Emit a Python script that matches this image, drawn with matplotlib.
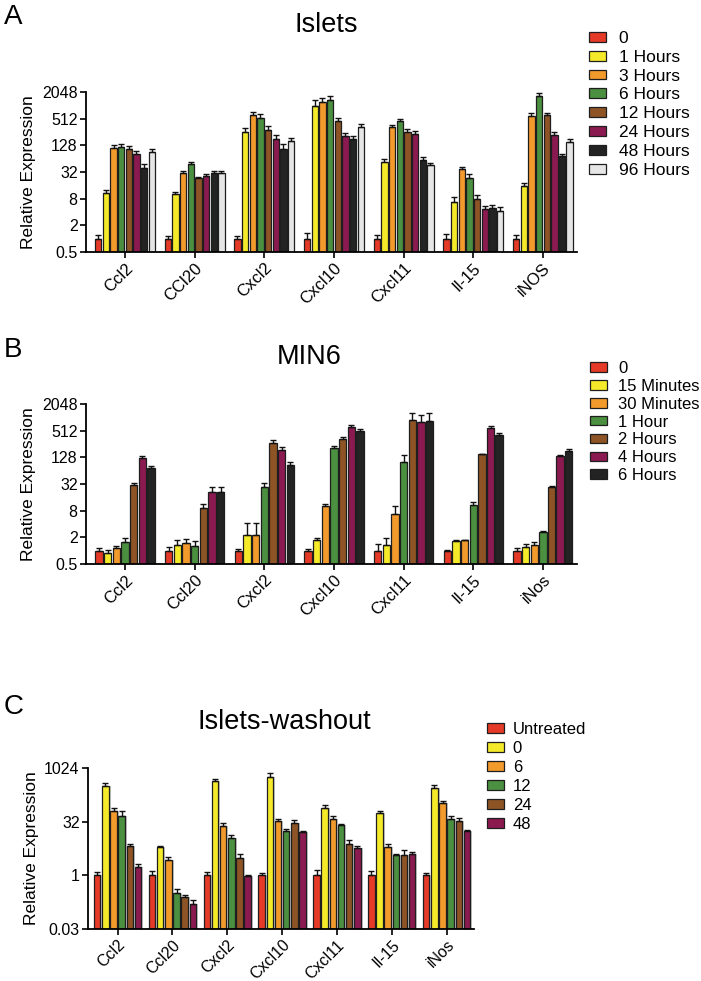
import numpy as np
import matplotlib
matplotlib.use('Agg')
import matplotlib.pyplot as plt
from matplotlib.ticker import FixedLocator, FixedFormatter, NullLocator
import matplotlib.transforms as mtransforms

plt.rcParams['font.family'] = ['Liberation Sans', 'DejaVu Sans']

# Panel A: Islets
genes_a = ['Ccl2', 'CCl20', 'Cxcl2', 'Cxcl10', 'Cxcl11', 'Il-15', 'iNOS']
series_a = ['0', '1 Hours', '3 Hours', '6 Hours', '12 Hours', '24 Hours', '48 Hours', '96 Hours']
# rows = genes, columns = series
vals_a = [
    [1.0, 10.5, 114, 118, 105, 80, 39, 92],
    [1.0, 10.0, 31, 48, 23, 26, 31, 31],
    [1.0, 254, 605, 526, 282, 182, 105, 161],
    [1.0, 968, 1190, 1320, 458, 209, 176, 340],
    [1.0, 55, 335, 442, 254, 229, 61, 45],
    [1.0, 6.9, 37, 24, 7.7, 4.6, 4.8, 4.3],
    [1.0, 15.7, 596, 1630, 617, 217, 72, 153],
]
# upper error as a fraction of the mean
err_a = [
    [0.23, 0.19, 0.15, 0.19, 0.15, 0.19, 0.23, 0.15],
    [0.15, 0.15, 0.11, 0.15, 0.09, 0.11, 0.11, 0.11],
    [0.15, 0.23, 0.19, 0.23, 0.23, 0.23, 0.28, 0.19],
    [0.34, 0.37, 0.23, 0.23, 0.15, 0.19, 0.19, 0.15],
    [0.19, 0.15, 0.11, 0.15, 0.15, 0.15, 0.15, 0.15],
    [0.30, 0.28, 0.15, 0.23, 0.28, 0.19, 0.23, 0.23],
    [0.19, 0.15, 0.15, 0.19, 0.11, 0.19, 0.15, 0.15],
]

# Panel B: MIN6
genes_b = ['Ccl2', 'Ccl20', 'Cxcl2', 'Cxcl10', 'Cxcl11', 'Il-15', 'iNos']
series_b = ['0', '15 Minutes', '30 Minutes', '1 Hour', '2 Hours', '4 Hours', '6 Hours']
vals_b = [
    [1.0, 0.9, 1.13, 1.6, 29.6, 123, 73],
    [1.0, 1.35, 1.47, 1.3, 9.1, 21, 21],
    [0.98, 2.2, 2.2, 27, 268, 190, 87],
    [1.0, 1.78, 10.3, 204, 336, 617, 500],
    [0.98, 1.32, 6.9, 100, 890, 815, 860],
    [1.0, 1.68, 1.7, 10.8, 149, 588, 407],
    [0.98, 1.21, 1.37, 2.6, 27, 134, 180],
]
err_b = [
    [0.15, 0.15, 0.15, 0.23, 0.11, 0.11, 0.11],
    [0.23, 0.28, 0.23, 0.28, 0.23, 0.28, 0.28],
    [0.09, 0.90, 0.90, 0.28, 0.15, 0.15, 0.15],
    [0.09, 0.09, 0.09, 0.15, 0.09, 0.11, 0.11],
    [0.47, 0.47, 0.47, 0.47, 0.47, 0.42, 0.47],
    [0.04, 0.04, 0.04, 0.19, 0.04, 0.09, 0.09],
    [0.15, 0.19, 0.15, 0.05, 0.05, 0.07, 0.11],
]

# Panel C: Islets-washout
genes_c = ['Ccl2', 'Ccl20', 'Cxcl2', 'Cxcl10', 'Cxcl11', 'Il-15', 'iNos']
series_c = ['Untreated', '0', '6', '12', '24', '48']
vals_c = [
    [1.0, 327, 64, 47, 6.6, 1.7],
    [1.0, 6.2, 2.7, 0.33, 0.24, 0.16],
    [1.0, 452, 24, 11.4, 3.06, 0.94],
    [1.0, 585, 33, 17.9, 30, 16.4],
    [1.0, 79, 38, 25, 7.4, 5.7],
    [1.0, 57, 6.1, 3.6, 3.7, 3.9],
    [1.0, 288, 105, 38, 34, 17],
]
err_c = [
    [0.24, 0.19, 0.19, 0.35, 0.14, 0.19],
    [0.30, 0.09, 0.19, 0.24, 0.19, 0.24],
    [0.24, 0.09, 0.19, 0.19, 0.30, 0.09],
    [0.14, 0.24, 0.14, 0.11, 0.19, 0.09],
    [0.41, 0.19, 0.24, 0.11, 0.30, 0.14],
    [0.30, 0.11, 0.24, 0.09, 0.35, 0.14],
    [0.19, 0.19, 0.14, 0.24, 0.19, 0.09],
]

red = '#e53a27'
yellow = '#f4ea2a'
orange = '#f39a2c'
green = '#4b8f40'
brown = '#8e5425'
purple = '#8b1a50'
black = '#232323'
white = '#e6e6e6'

W, H = 701, 981


def fig_rect(left, top, right, bottom):
    # pixel box -> figure fraction
    return [left / W, 1 - bottom / H, (right - left) / W, (bottom - top) / H]


def draw_panel(ax, genes, series, vals, errs, colors, ymin, ymax, step, width,
               ticks, ticklabels, xlim, shadow=False, xfont=12):
    vals = np.array(vals)
    errs = np.array(errs)
    x = np.arange(len(genes))
    n = len(series)
    handles = []
    for j in range(n):
        xpos = x + (j - (n - 1) / 2) * step
        v = vals[:, j]
        e = v * errs[:, j]
        if shadow:
            ax.bar(xpos + width * 0.3, v - ymin, width, bottom=ymin,
                   color='#c9c9c9', zorder=1)
        b = ax.bar(xpos, v - ymin, width, bottom=ymin, color=colors[j],
                   edgecolor='#1e1e1e', linewidth=0.9, zorder=2, label=series[j])
        handles.append(b)
        ax.errorbar(xpos, v, yerr=[np.zeros_like(e), e], fmt='none',
                    ecolor='#111111', elinewidth=1.0, capsize=2, capthick=1.0,
                    zorder=3)

    ax.set_yscale('log', base=2)
    ax.set_ylim(ymin, ymax)
    ax.set_xlim(*xlim)
    ax.yaxis.set_major_locator(FixedLocator(ticks))
    ax.yaxis.set_major_formatter(FixedFormatter(ticklabels))
    ax.yaxis.set_minor_locator(NullLocator())
    ax.set_xticks(x)
    ax.set_xticklabels(genes, rotation=45, ha='right', rotation_mode='anchor',
                       fontsize=xfont)
    offset = mtransforms.ScaledTranslation(8 / 100, 3 / 100, ax.figure.dpi_scale_trans)
    for lab in ax.get_xticklabels():
        lab.set_transform(lab.get_transform() + offset)
    ax.tick_params(axis='both', direction='out', length=4, width=1.2,
                   labelsize=11.5, pad=2)
    ax.tick_params(axis='x', pad=2, labelsize=xfont)
    for s in ['top', 'right']:
        ax.spines[s].set_visible(False)
    for s in ['left', 'bottom']:
        ax.spines[s].set_linewidth(1.3)
    ax.set_ylabel('Relative Expression', fontsize=12.5, labelpad=4)
    return handles


fig = plt.figure(figsize=(W / 100, H / 100), dpi=100)

log_ticks = [0.5, 2, 8, 32, 128, 512, 2048]
log_labels = ['0.5', '2', '8', '32', '128', '512', '2048']

# A
ax_a = fig.add_axes(fig_rect(86, 92, 577, 252))
h_a = draw_panel(ax_a, genes_a, series_a, vals_a, err_a,
                 [red, yellow, orange, green, brown, purple, black, white],
                 0.5, 2048, 0.11, 0.092, log_ticks, log_labels, (-0.56, 6.49))
fig.legend(h_a, series_a, loc='upper left', bbox_to_anchor=(589 / W, 1 - 31 / H),
           frameon=False, fontsize=12.5, handlelength=1.0, handleheight=0.5,
           handletextpad=0.7, labelspacing=0.22, borderpad=0, borderaxespad=0)

# B
ax_b = fig.add_axes(fig_rect(86, 404, 577, 564))
h_b = draw_panel(ax_b, genes_b, series_b, vals_b, err_b,
                 [red, yellow, orange, green, brown, purple, black],
                 0.5, 2048, 0.124, 0.105, log_ticks, log_labels, (-0.56, 6.49))
fig.legend(h_b, series_b, loc='upper left', bbox_to_anchor=(590 / W, 1 - 361 / H),
           frameon=False, fontsize=12, handlelength=1.0, handleheight=0.5,
           handletextpad=0.7, labelspacing=0.17, borderpad=0, borderaxespad=0)

# C
ax_c = fig.add_axes(fig_rect(88, 768, 474, 929))
h_c = draw_panel(ax_c, genes_c, series_c, vals_c, err_c,
                 [red, yellow, orange, green, brown, purple],
                 1 / 32, 1024, 0.149, 0.118, [1 / 32, 1, 32, 1024],
                 ['0.03', '1', '32', '1024'], (-0.54, 6.5), shadow=True,
                 xfont=11.5)
fig.legend(h_c, series_c, loc='upper left', bbox_to_anchor=(487 / W, 1 - 722 / H),
           frameon=False, fontsize=12, handlelength=1.0, handleheight=0.5,
           handletextpad=0.55, labelspacing=0.24, borderpad=0, borderaxespad=0)

# titles and panel letters
fig.text(326 / W, 1 - 25 / H, 'Islets', ha='center', va='center', fontsize=19.5)
fig.text(309 / W, 1 - 357 / H, 'MIN6', ha='center', va='center', fontsize=19.5)
fig.text(284 / W, 1 - 722 / H, 'Islets-washout', ha='center', va='center',
         fontsize=19.5)
for letter, y in [('A', 4), ('B', 337), ('C', 694)]:
    fig.text(4 / W, 1 - y / H, letter, ha='left', va='top', fontsize=20)

fig.savefig('out.png', dpi=100)
